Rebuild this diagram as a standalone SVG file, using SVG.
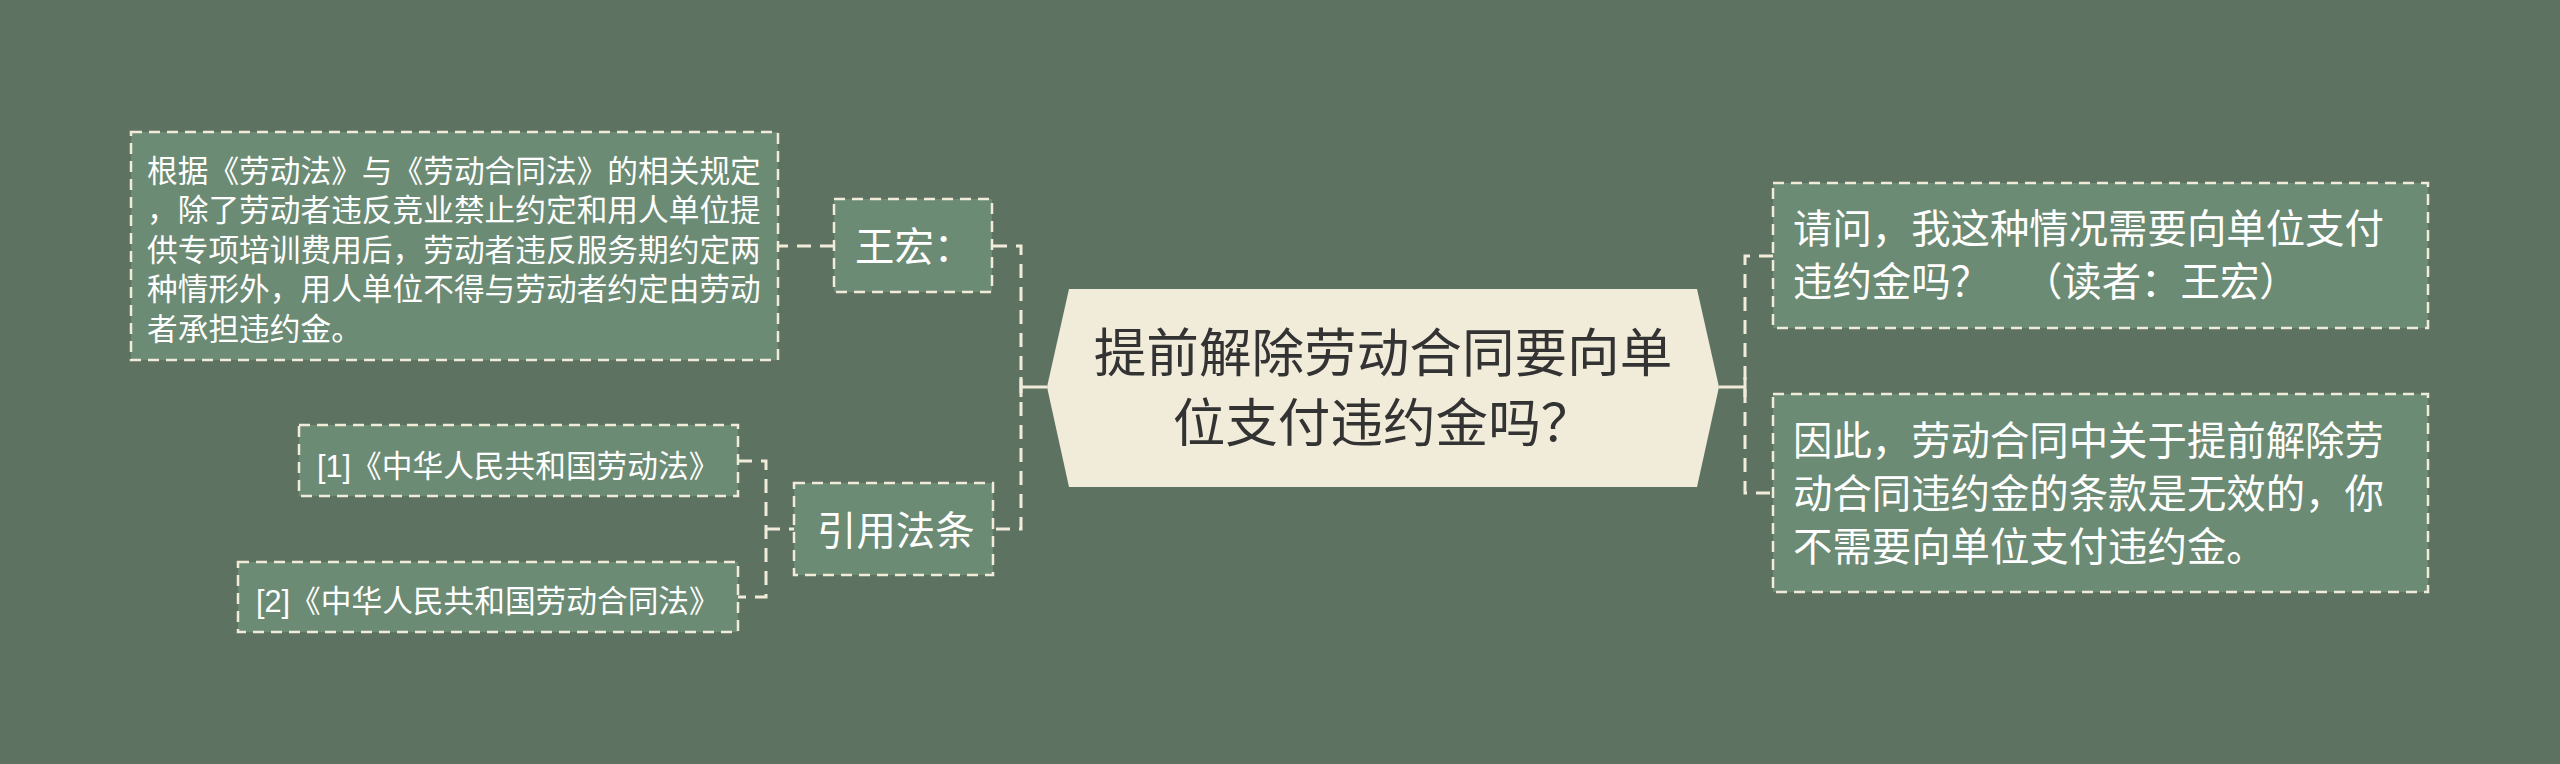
<svg xmlns="http://www.w3.org/2000/svg" width="2560" height="764" viewBox="0 0 2560 764">
<style>
text{font-family:"Liberation Sans","Noto Sans CJK SC",sans-serif;}
.box{fill:#6c8b74;stroke:#f1ebd9;stroke-width:2.5;stroke-dasharray:11 7;}
.t1{font-size:39.4px;fill:#ffffff;}
.t2{font-size:30.7px;fill:#ffffff;}
.root{font-size:52.6px;fill:#333333;text-anchor:middle;}
.dash{fill:none;stroke:#f1ebd9;stroke-width:3;stroke-dasharray:14 9;}
.solid{fill:none;stroke:#f1ebd9;stroke-width:3;}
</style>
<rect width="2560" height="764" fill="#5e7262"/>
<g id="connectors">
<path class="solid" d="M1047,387 H1021"/>
<path class="dash" d="M993,246 H1021 V529 H993"/>
<path class="solid" d="M1021,377 V397"/>
<path class="dash" d="M834,246 H778"/>
<path class="dash" d="M738,461 H766 V597 H738"/>
<path class="dash" d="M766,529 H794"/>
<path class="solid" d="M1719,387 H1745"/>
<path class="dash" d="M1773,256 H1745 V493 H1773"/>
<path class="solid" d="M1745,377 V397"/>
</g>
<g id="root">
<polygon points="1047,387 1069,289 1697,289 1719,387 1697,487 1069,487" fill="#f1ebd9"/>
<text class="root" x="1383" y="372">提前解除劳动合同要向单</text>
<text class="root" x="1383" y="442">位支付违约金吗？</text>
</g>
<g id="n-wanghong">
<rect class="box" x="834" y="199" width="158" height="93"/>
<text class="t1" x="855" y="261">王宏：</text>
</g>
<g id="n-wanghong-detail">
<rect class="box" x="131" y="132" width="647" height="228"/>
<text class="t2" x="147" y="181.5">根据《劳动法》与《劳动合同法》的相关规定</text>
<text class="t2" x="147" y="221">，除了劳动者违反竞业禁止约定和用人单位提</text>
<text class="t2" x="147" y="260.5">供专项培训费用后，劳动者违反服务期约定两</text>
<text class="t2" x="147" y="300">种情形外，用人单位不得与劳动者约定由劳动</text>
<text class="t2" x="147" y="339.5">者承担违约金。</text>
</g>
<g id="n-laws">
<rect class="box" x="794" y="483" width="199" height="92"/>
<text class="t1" x="817" y="545">引用法条</text>
</g>
<g id="n-law1">
<rect class="box" x="299" y="425" width="439" height="71"/>
<text class="t2" x="317" y="477">[1]《中华人民共和国劳动法》</text>
</g>
<g id="n-law2">
<rect class="box" x="238" y="562" width="500" height="70"/>
<text class="t2" x="256" y="612">[2]《中华人民共和国劳动合同法》</text>
</g>
<g id="n-question">
<rect class="box" x="1773" y="183" width="655" height="145"/>
<text class="t1" x="1793" y="243">请问，我这种情况需要向单位支付</text>
<text class="t1" x="1793" y="296">违约金吗？<tspan dx="33">（读者：王宏）</tspan></text>
</g>
<g id="n-answer">
<rect class="box" x="1773" y="394" width="655" height="198"/>
<text class="t1" x="1793" y="455">因此，劳动合同中关于提前解除劳</text>
<text class="t1" x="1793" y="508">动合同违约金的条款是无效的，你</text>
<text class="t1" x="1793" y="561">不需要向单位支付违约金。</text>
</g>
</svg>
